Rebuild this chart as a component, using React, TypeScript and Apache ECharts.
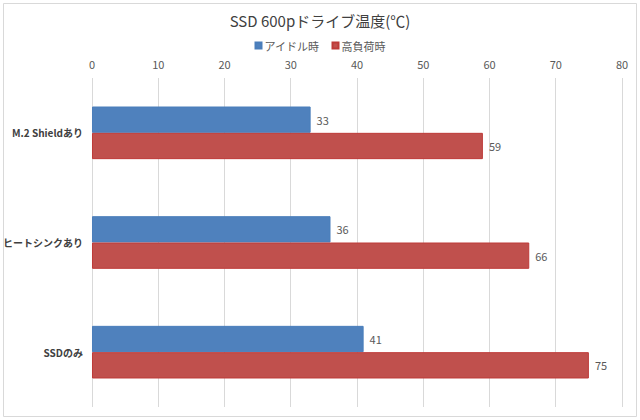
import React, { useEffect, useRef } from "react";
import * as echarts from "echarts";

const categories = ["M.2 Shieldあり", "ヒートシンクあり", "SSDのみ"];
const idleValues = [33, 36, 41];
const loadValues = [59, 66, 75];
const seriesNames = ["アイドル時", "高負荷時"];
const titleText = "SSD 600pドライブ温度(℃)";

const FONT = "'Noto Sans CJK JP', 'Noto Sans', sans-serif";

export default function App() {
  const ref = useRef<HTMLDivElement>(null);
  useEffect(() => {
    if (!ref.current) return;
    const chart = echarts.init(ref.current, undefined, { renderer: "svg" });
    chart.setOption({
      animation: false,
      backgroundColor: "#ffffff",
      textStyle: { fontFamily: FONT },
      title: {
        text: titleText,
        left: "center",
        top: 8,
        textStyle: { fontSize: 15, fontWeight: "normal", color: "#404040", fontFamily: FONT },
      },
      legend: {
        data: seriesNames,
        top: 35,
        left: "center",
        itemWidth: 6,
        itemHeight: 6,
        itemGap: 12,
        icon: "rect",
        textStyle: { fontSize: 11, color: "#595959", fontFamily: FONT, padding: [0, 0, 0, -2] },
      },
      graphic: [
        {
          type: "rect",
          shape: { x: 3.5, y: 3.5, width: 633, height: 413 },
          style: { fill: "none", stroke: "#D9D9D9", lineWidth: 1 },
          silent: true,
          z: -1,
        },
      ],
      grid: { left: 88, right: 18, top: 78, bottom: 13, containLabel: false },
      xAxis: {
        type: "value",
        position: "top",
        min: 0,
        max: 80,
        interval: 10,
        axisLine: { show: false },
        axisTick: { show: false },
        axisLabel: { fontSize: 11, color: "#595959", margin: 9, fontFamily: FONT },
        splitLine: { show: true, lineStyle: { color: "#D9D9D9", width: 1 } },
      },
      yAxis: {
        type: "category",
        data: categories,
        inverse: true,
        axisLine: { show: false },
        axisTick: { show: false },
        axisLabel: { fontSize: 10, fontWeight: "bold", color: "#404040", margin: 9, fontFamily: FONT },
      },
      series: [
        {
          name: seriesNames[0],
          type: "bar",
          data: idleValues,
          barGap: "0%",
          barCategoryGap: "52%",
          itemStyle: { color: "#4F81BD", borderColor: "#4A7EBB", borderWidth: 1 },
          label: { show: true, position: "right", distance: 6, fontSize: 11, color: "#595959", fontFamily: FONT },
        },
        {
          name: seriesNames[1],
          type: "bar",
          data: loadValues,
          barGap: "0%",
          barCategoryGap: "52%",
          itemStyle: { color: "#C0504D", borderColor: "#BE3A38", borderWidth: 1 },
          label: { show: true, position: "right", distance: 6, fontSize: 11, color: "#595959", fontFamily: FONT },
        },
      ],
    });
    return () => chart.dispose();
  }, []);
  return (
    <div
      ref={ref}
      style={{ position: "fixed", left: 0, top: 0, width: 640, height: 420 }}
    />
  );
}
